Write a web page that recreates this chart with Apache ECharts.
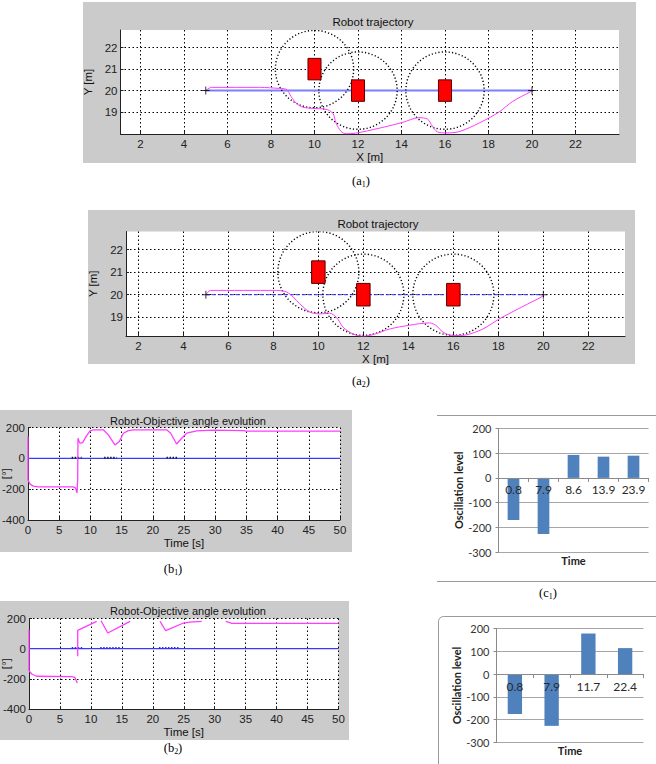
<!DOCTYPE html>
<html><head><meta charset="utf-8">
<script src="https://cdn.jsdelivr.net/npm/echarts@6/dist/echarts.min.js"></script>
<style>html,body{margin:0;padding:0;background:#fff}#c{width:656px;height:764px}</style>
</head><body><div id="c"></div>
<script>
// ---------- data: (a1) robot trajectory ----------
const a1PathX = [5, 5.26, 7.47, 8.39, 8.7, 8.93, 9.16, 9.46, 9.92, 10.53, 10.84, 10.99, 11.22, 11.45, 11.9, 12.98, 14.05, 14.8, 15.2, 15.42, 15.65, 16.04, 16.65, 17.57, 18.48, 19.1, 19.97, 20];
const a1PathY = [20, 20.15, 20.15, 20.1, 20.06, 19.72, 19.41, 19.23, 19.17, 19.13, 18.95, 18.49, 18.1, 17.99, 18.02, 18.25, 18.52, 18.74, 18.67, 18.34, 18.08, 18.03, 18.09, 18.49, 19.0, 19.49, 19.97, 20];
// ---------- data: (a2) robot trajectory ----------
const a2PathX = [5, 5.21, 8.14, 8.58, 8.88, 9.17, 9.62, 10.06, 10.5, 10.8, 11.1, 11.54, 11.99, 12.43, 13.17, 14.06, 14.94, 15.24, 15.54, 15.98, 16.57, 17.31, 18.05, 19.09, 19.97, 20];
const a2PathY = [20, 20.19, 20.19, 20.12, 19.9, 19.6, 19.23, 19.15, 19.18, 19.0, 18.56, 18.26, 18.16, 18.23, 18.48, 18.65, 18.75, 18.63, 18.34, 18.19, 18.22, 18.48, 18.93, 19.48, 19.93, 20];
// obstacles and their safety circles
const obsX = [10, 12, 16];
const obsY = [21, 20, 20];
const obsR = [1.8, 1.8, 1.8];
const obsW = [0.6, 0.6, 0.6];
const obsH = [1, 1, 1];
// straight reference path start / goal
const refX = [5, 20];
const refY = [20, 20];
// tick values
const aXTicks = [2, 4, 6, 8, 10, 12, 14, 16, 18, 20, 22];
const aYTicks = [19, 20, 21, 22];
// ---------- data: (b1) robot-objective angle ----------
const b1T = [0, 0, 0.32, 0.85, 1.66, 7.26, 7.6, 7.85, 7.96, 8.01, 8.2, 8.33, 8.76, 9.3, 9.94, 10.47, 12.07, 12.87, 13.94, 14.64, 15.28, 16.08, 16.88, 22.22, 22.86, 23.82, 24.63, 25.43, 27.03, 29.7, 34.5, 35.04, 50];
const b1Ang = [141, -141, -167, -180, -185, -185, -191, -224, -141, 130, 109, 98, 102, 141, 178, 185, 185, 152, 87, 109, 163, 180, 185, 185, 163, 93, 130, 163, 178, 183, 180, 176, 176];
const b1MarkT = [7.0, 8.6, null, 12.2, 14.2, null, 22.2, 24.0];
const b1MarkY = [3, 3, null, 3, 3, null, 3, 3];
// ---------- data: (b2) robot-objective angle ----------
const b2T = [0, 0, 0.43, 1.24, 6.9, 7.4, 7.8, 7.84, 7.87, 7.87, 10.94, 11.3, 11.64, 12.72, 16.33, 18, 21.17, 22.09, 24.95, 26.0, 27.9, 30, 31.8, 32.76, 50];
const b2Ang = [126, -146, -168, -183, -185, -190, -227, null, -51, 121, 181, null, 185, 104, 181, null, 181, 119, 170, 176, 181, null, 181, 168, 168];
const b2MarkT = [6.9, 8.6, null, 11.5, 14.8, null, 21.0, 24.4];
const b2MarkY = [4, 4, null, 4, 4, null, 4, 4];
// ---------- data: (c1), (c2) oscillation levels ----------
const c1Cats = ['0.8', '7.9', '8.6', '13.9', '23.9'];
const c1Vals = [-170, -227, 93, 86, 90];
const c2Cats = ['0.8', '7.9', '11.7', '22.4'];
const c2Vals = [-175, -227, 178, 114];

const chart = echarts.init(document.getElementById('c'), null, {renderer: 'svg', width: 656, height: 764});

const FONT = 'Liberation Sans';
const EX = 'Lato';
const dotted = {show: true, lineStyle: {color: '#000', type: [1.5, 2.5], width: 1}};
const zip = (xs, ys) => xs.map((x, i) => (x === null || ys[i] === null) ? [x === null ? '-' : x, '-'] : [x, ys[i]]);

function mlX(grid, min, max, name, gap, extra) {
  return Object.assign({
    type: 'value', gridIndex: grid, min: min, max: max, name: name,
    nameLocation: 'middle', nameGap: gap,
    nameTextStyle: {fontFamily: FONT, fontSize: 11.5, color: '#111'},
    axisLine: {show: true, onZero: false, lineStyle: {color: '#222', width: 1}},
    axisTick: {show: true, inside: true, length: 3, lineStyle: {color: '#222'}},
    axisLabel: {fontFamily: FONT, fontSize: 11.5, color: '#222', margin: 4},
    splitLine: dotted
  }, extra || {});
}
function mlY(grid, min, max, name, gap, extra) {
  return Object.assign({
    type: 'value', gridIndex: grid, min: min, max: max, name: name,
    nameLocation: 'middle', nameGap: gap, nameRotate: 90,
    nameTextStyle: {fontFamily: FONT, fontSize: 11.5, color: '#111'},
    axisLine: {show: true, onZero: false, lineStyle: {color: '#222', width: 1}},
    axisTick: {show: true, inside: true, length: 3, lineStyle: {color: '#222'}},
    axisLabel: {fontFamily: FONT, fontSize: 11.5, color: '#222', margin: 3},
    splitLine: dotted
  }, extra || {});
}
function exY(grid, gap) {
  return {
    type: 'value', gridIndex: grid, min: -300, max: 200, interval: 100,
    name: 'Oscillation level', nameLocation: 'middle', nameGap: gap, nameRotate: 90,
    nameTextStyle: {fontFamily: EX, fontSize: 11, fontWeight: 'bold', color: '#222'},
    axisLine: {show: true, lineStyle: {color: '#8a8a8a'}},
    axisTick: {show: true, length: 3, lineStyle: {color: '#8a8a8a'}},
    axisLabel: {fontFamily: EX, fontSize: 11, color: '#333', margin: 7},
    splitLine: {show: true, lineStyle: {color: '#a6a6a6', width: 1}}
  };
}
// category axis raised to the zero line with an offset (Excel style)
function exX(grid, cats, gap, off) {
  return {
    type: 'category', gridIndex: grid, data: cats, offset: off, z: 10,
    name: 'Time', nameLocation: 'middle', nameGap: gap,
    nameTextStyle: {fontFamily: EX, fontSize: 11, fontWeight: 'bold', color: '#222'},
    axisLine: {show: true, onZero: false, lineStyle: {color: '#8a8a8a'}},
    axisTick: {show: true, length: 4, lineStyle: {color: '#8a8a8a'}},
    axisLabel: {fontFamily: EX, fontSize: 12, color: '#2a2a2a', margin: 6, interval: 0},
    splitLine: {show: false}
  };
}

function circleSeries(x, y) {
  return {
    type: 'custom', xAxisIndex: x, yAxisIndex: y, clip: true, z: 3,
    data: obsX.map((v, i) => [v, obsY[i], obsR[i]]),
    renderItem: function (params, api) {
      const c = api.coord([api.value(0), api.value(1)]);
      const s = api.size([api.value(2), api.value(2)]);
      return {type: 'ellipse', shape: {cx: c[0], cy: c[1], rx: s[0], ry: s[1]},
        style: {fill: 'none', stroke: '#000', lineWidth: 1.4, lineDash: [1.2, 2.2]}};
    }
  };
}
function rectSeries(x, y) {
  return {
    type: 'custom', xAxisIndex: x, yAxisIndex: y, clip: true, z: 4,
    data: obsX.map((v, i) => [v, obsY[i], obsW[i], obsH[i]]),
    renderItem: function (params, api) {
      const w = api.value(2), h = api.value(3);
      const c = api.coord([api.value(0) - w / 2, api.value(1) + h / 2]);
      const s = api.size([w, h]);
      return {type: 'rect', shape: {x: c[0], y: c[1], width: s[0], height: s[1]},
        style: {fill: '#ff0000', stroke: '#5a0000', lineWidth: 1}};
    }
  };
}
const plusPath = 'path://M-1,-0.12H1V0.12H-1Z M-0.12,-1H0.12V1H-0.12Z';

function cap(x, y, letter, sub) {
  return {type: 'text', x: x, y: y, z: 10,
    style: {text: '{n|(' + letter + '}{s|' + sub + '}{n|)}', align: 'center', verticalAlign: 'middle',
      rich: {n: {fontFamily: 'Liberation Serif', fontSize: 12.5, color: '#111'},
             s: {fontFamily: 'Liberation Serif', fontSize: 8, color: '#111', verticalAlign: 'bottom', padding: [6, 0, 0, 0]}}}};
}

const option = {
  animation: false,
  backgroundColor: '#ffffff',
  title: [
    {text: 'Robot trajectory', left: 368, top: 11, textAlign: 'center', textStyle: {fontFamily: FONT, fontSize: 11.5, fontWeight: 'normal', color: '#111'}},
    {text: 'Robot trajectory', left: 373, top: 213, textAlign: 'center', textStyle: {fontFamily: FONT, fontSize: 11.5, fontWeight: 'normal', color: '#111'}},
    {text: 'Robot-Objective angle evolution', left: 183, top: 410, textAlign: 'center', textStyle: {fontFamily: FONT, fontSize: 11, fontWeight: 'normal', color: '#111'}},
    {text: 'Robot-Objective angle evolution', left: 183, top: 600, textAlign: 'center', textStyle: {fontFamily: FONT, fontSize: 11, fontWeight: 'normal', color: '#111'}}
  ],
  graphic: [
    {type: 'rect', z: -10, shape: {x: 83, y: 2, width: 553, height: 161}, style: {fill: '#cbcbcb'}},
    {type: 'rect', z: -10, shape: {x: 88, y: 210, width: 547, height: 154}, style: {fill: '#cbcbcb'}},
    {type: 'rect', z: -10, shape: {x: -1, y: 410, width: 353, height: 142}, style: {fill: '#cbcbcb'}},
    {type: 'rect', z: -10, shape: {x: -1, y: 601, width: 350, height: 139}, style: {fill: '#cbcbcb'}},
    {type: 'line', z: -10, shape: {x1: 437, y1: 415.5, x2: 656, y2: 415.5}, style: {stroke: '#9a9a9a', lineWidth: 1}},
    {type: 'line', z: -10, shape: {x1: 437, y1: 581.5, x2: 656, y2: 581.5}, style: {stroke: '#9a9a9a', lineWidth: 1}},
    {type: 'rect', z: -10, shape: {x: 438.5, y: 616.5, width: 240, height: 170, r: 5}, style: {fill: 'none', stroke: '#9a9a9a', lineWidth: 1}},
    cap(361, 181, 'a', '1'),
    cap(361, 381, 'a', '2'),
    cap(173, 569, 'b', '1'),
    cap(173, 748, 'b', '2'),
    cap(548, 593, 'c', '1')
  ],
  grid: [
    {left: 120.5, top: 30, width: 498.5, height: 104, show: true, backgroundColor: '#fff', borderWidth: 0, outerBoundsMode: 'none'},
    {left: 126, top: 231.5, width: 499, height: 104.5, show: true, backgroundColor: '#fff', borderWidth: 0, outerBoundsMode: 'none'},
    {left: 28, top: 427.5, width: 312, height: 92.5, show: true, backgroundColor: '#fff', borderWidth: 0, outerBoundsMode: 'none'},
    {left: 29, top: 618.5, width: 309.5, height: 90.5, show: true, backgroundColor: '#fff', borderWidth: 0, outerBoundsMode: 'none'},
    {left: 498.5, top: 428.5, width: 150, height: 123.5, show: false, outerBoundsMode: 'none'},
    {left: 496.5, top: 628.5, width: 147, height: 114, show: false, outerBoundsMode: 'none'}
  ],
  xAxis: [
    mlX(0, 1.08, 24, 'X [m]', 16, {axisLabel: {fontFamily: FONT, fontSize: 11.5, color: '#222', margin: 4, customValues: aXTicks}, axisTick: {show: true, inside: true, length: 3, customValues: aXTicks, lineStyle: {color: '#222'}}}),
    mlX(1, 1.45, 23.63, 'X [m]', 17, {axisLabel: {fontFamily: FONT, fontSize: 11.5, color: '#222', margin: 4, customValues: aXTicks}, axisTick: {show: true, inside: true, length: 3, customValues: aXTicks, lineStyle: {color: '#222'}}}),
    mlX(2, 0, 50, 'Time [s]', 14, {interval: 5}),
    mlX(3, 0, 50, 'Time [s]', 12, {interval: 5}),
    exX(4, c1Cats, 77, -74.1),
    exX(5, c2Cats, 71, -68.4)
  ],
  yAxis: [
    mlY(0, 17.98, 22.82, 'Y [m]', 21, {axisLabel: {fontFamily: FONT, fontSize: 11.5, color: '#222', margin: 3, customValues: aYTicks}, axisTick: {show: true, inside: true, length: 3, customValues: aYTicks, lineStyle: {color: '#222'}}}),
    mlY(1, 18.17, 22.8, 'Y [m]', 20, {axisLabel: {fontFamily: FONT, fontSize: 11.5, color: '#222', margin: 3, customValues: aYTicks}, axisTick: {show: true, inside: true, length: 3, customValues: aYTicks, lineStyle: {color: '#222'}}}),
    mlY(2, -400, 200, '[°]', 16, {interval: 200, nameMoveOverlap: false}),
    mlY(3, -400, 200, '[°]', 17, {interval: 200, nameMoveOverlap: false}),
    exY(4, 34),
    exY(5, 32)
  ],
  series: [
    // (a1)
    circleSeries(0, 0),
    {type: 'line', xAxisIndex: 0, yAxisIndex: 0, data: zip(refX, refY), showSymbol: false, z: 2,
      lineStyle: {color: '#7f7fff', width: 2}},
    {type: 'line', xAxisIndex: 0, yAxisIndex: 0, data: zip(a1PathX, a1PathY), showSymbol: false, smooth: 0.3, z: 5,
      lineStyle: {color: '#ff3cff', width: 1}},
    rectSeries(0, 0),
    {type: 'scatter', xAxisIndex: 0, yAxisIndex: 0, data: zip(refX, refY), symbol: plusPath, symbolSize: 8, z: 6,
      itemStyle: {color: '#000'}},
    // (a2)
    circleSeries(1, 1),
    {type: 'line', xAxisIndex: 1, yAxisIndex: 1, data: zip(refX, refY), showSymbol: false, z: 2,
      lineStyle: {color: '#2a2aff', width: 1, type: [4, 2]}},
    {type: 'line', xAxisIndex: 1, yAxisIndex: 1, data: zip(a2PathX, a2PathY), showSymbol: false, smooth: 0.3, z: 5,
      lineStyle: {color: '#ff3cff', width: 1}},
    rectSeries(1, 1),
    {type: 'scatter', xAxisIndex: 1, yAxisIndex: 1, data: zip(refX, refY), symbol: plusPath, symbolSize: 8, z: 6,
      itemStyle: {color: '#000'}},
    // (b1)
    {type: 'line', xAxisIndex: 2, yAxisIndex: 2, data: [[0, 0], [50, 0]], showSymbol: false, z: 2,
      lineStyle: {color: '#3a3aff', width: 1.3}},
    {type: 'line', xAxisIndex: 2, yAxisIndex: 2, data: zip(b1MarkT, b1MarkY), showSymbol: false, z: 3,
      lineStyle: {color: '#1a1a4a', width: 2, type: [1.5, 1.5]}},
    {type: 'line', xAxisIndex: 2, yAxisIndex: 2, data: zip(b1T, b1Ang), showSymbol: false, z: 4, clip: true,
      lineStyle: {color: '#ff3cff', width: 1.3}},
    // (b2)
    {type: 'line', xAxisIndex: 3, yAxisIndex: 3, data: [[0, 0], [50, 0]], showSymbol: false, z: 2,
      lineStyle: {color: '#3a3aff', width: 1.3}},
    {type: 'line', xAxisIndex: 3, yAxisIndex: 3, data: zip(b2MarkT, b2MarkY), showSymbol: false, z: 3,
      lineStyle: {color: '#2a2aff', width: 2, type: [1.5, 1.5]}},
    {type: 'line', xAxisIndex: 3, yAxisIndex: 3, data: zip(b2T, b2Ang), showSymbol: false, z: 4, clip: true,
      connectNulls: false, lineStyle: {color: '#ff3cff', width: 1.3}},
    // (c1), (c2)
    {type: 'bar', xAxisIndex: 4, yAxisIndex: 4, data: c1Vals, barWidth: '39%', itemStyle: {color: '#4f81bd'}, z: 1},
    {type: 'bar', xAxisIndex: 5, yAxisIndex: 5, data: c2Vals, barWidth: '39%', itemStyle: {color: '#4f81bd'}, z: 1}
  ]
};
chart.setOption(option);
</script></body></html>
